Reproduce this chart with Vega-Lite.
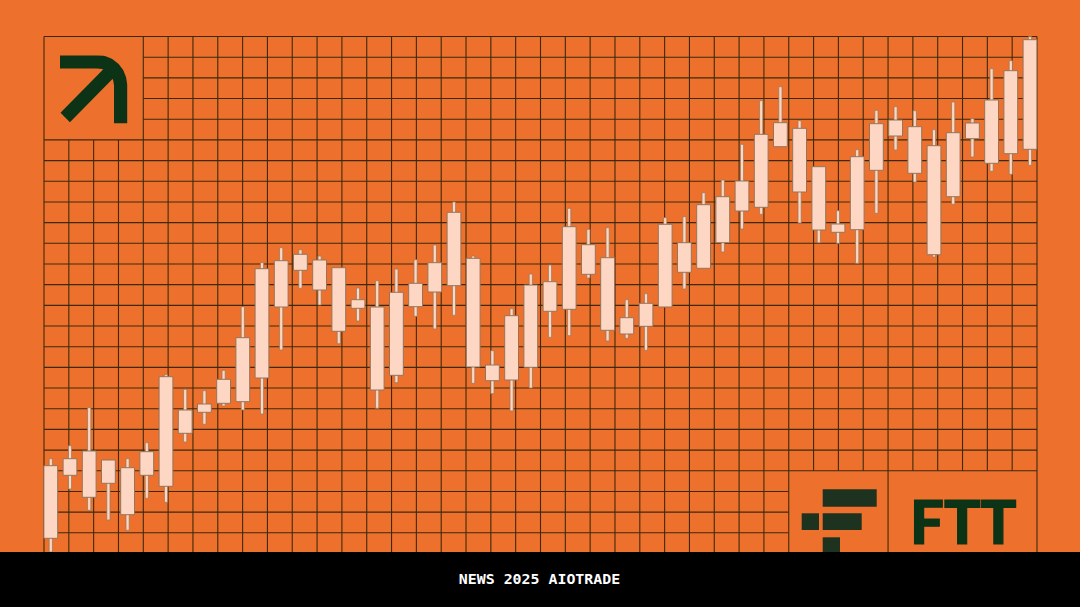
{"$schema":"https://vega.github.io/schema/vega-lite/v6.json","width":1080,"height":607,"padding":0,"autosize":"none","background":"#ee702d","config":{"view":{"stroke":null}},"datasets":{"grid":[{"a":0,"b":0,"c":40,"d":0},{"a":4,"b":1,"c":40,"d":1},{"a":4,"b":2,"c":40,"d":2},{"a":4,"b":3,"c":40,"d":3},{"a":4,"b":4,"c":40,"d":4},{"a":0,"b":5,"c":40,"d":5},{"a":0,"b":6,"c":40,"d":6},{"a":0,"b":7,"c":40,"d":7},{"a":0,"b":8,"c":40,"d":8},{"a":0,"b":9,"c":40,"d":9},{"a":0,"b":10,"c":40,"d":10},{"a":0,"b":11,"c":40,"d":11},{"a":0,"b":12,"c":40,"d":12},{"a":0,"b":13,"c":40,"d":13},{"a":0,"b":14,"c":40,"d":14},{"a":0,"b":15,"c":40,"d":15},{"a":0,"b":16,"c":40,"d":16},{"a":0,"b":17,"c":40,"d":17},{"a":0,"b":18,"c":40,"d":18},{"a":0,"b":19,"c":40,"d":19},{"a":0,"b":20,"c":40,"d":20},{"a":0,"b":21,"c":40,"d":21},{"a":0,"b":22,"c":30,"d":22},{"a":0,"b":23,"c":30,"d":23},{"a":0,"b":24,"c":30,"d":24},{"a":0,"b":25,"c":30,"d":25},{"a":0,"b":0,"c":0,"d":25},{"a":1,"b":5,"c":1,"d":25},{"a":2,"b":5,"c":2,"d":25},{"a":3,"b":5,"c":3,"d":25},{"a":4,"b":0,"c":4,"d":25},{"a":5,"b":0,"c":5,"d":25},{"a":6,"b":0,"c":6,"d":25},{"a":7,"b":0,"c":7,"d":25},{"a":8,"b":0,"c":8,"d":25},{"a":9,"b":0,"c":9,"d":25},{"a":10,"b":0,"c":10,"d":25},{"a":11,"b":0,"c":11,"d":25},{"a":12,"b":0,"c":12,"d":25},{"a":13,"b":0,"c":13,"d":25},{"a":14,"b":0,"c":14,"d":25},{"a":15,"b":0,"c":15,"d":25},{"a":16,"b":0,"c":16,"d":25},{"a":17,"b":0,"c":17,"d":25},{"a":18,"b":0,"c":18,"d":25},{"a":19,"b":0,"c":19,"d":25},{"a":20,"b":0,"c":20,"d":25},{"a":21,"b":0,"c":21,"d":25},{"a":22,"b":0,"c":22,"d":25},{"a":23,"b":0,"c":23,"d":25},{"a":24,"b":0,"c":24,"d":25},{"a":25,"b":0,"c":25,"d":25},{"a":26,"b":0,"c":26,"d":25},{"a":27,"b":0,"c":27,"d":25},{"a":28,"b":0,"c":28,"d":25},{"a":29,"b":0,"c":29,"d":25},{"a":30,"b":0,"c":30,"d":25},{"a":31,"b":0,"c":31,"d":21},{"a":32,"b":0,"c":32,"d":21},{"a":33,"b":0,"c":33,"d":21},{"a":34,"b":0,"c":34,"d":25},{"a":35,"b":0,"c":35,"d":21},{"a":36,"b":0,"c":36,"d":21},{"a":37,"b":0,"c":37,"d":21},{"a":38,"b":0,"c":38,"d":21},{"a":39,"b":0,"c":39,"d":21},{"a":40,"b":0,"c":40,"d":25}],"candles":[{"i":0,"low":55,"high":148.3,"open":68.7,"close":141.3},{"i":1,"low":118,"high":161.3,"open":131.7,"close":148.3},{"i":2,"low":96.7,"high":199.3,"open":109.7,"close":156},{"i":3,"low":87,"high":147,"open":123.7,"close":147},{"i":4,"low":76.7,"high":148.3,"open":92.3,"close":139.3},{"i":5,"low":108.7,"high":164.3,"open":131.7,"close":155.3},{"i":6,"low":104.7,"high":232.3,"open":120.7,"close":230.3},{"i":7,"low":165,"high":217.7,"open":173.7,"close":197},{"i":8,"low":182.7,"high":216.3,"open":194.7,"close":203},{"i":9,"low":201,"high":236.7,"open":203.7,"close":227.7},{"i":10,"low":197,"high":300.3,"open":205.3,"close":269.3},{"i":11,"low":193,"high":344.3,"open":229,"close":338.3},{"i":12,"low":257,"high":359.3,"open":300,"close":346.3},{"i":13,"low":318.7,"high":357.3,"open":336.7,"close":352.7},{"i":14,"low":302,"high":351,"open":317,"close":347},{"i":15,"low":263.3,"high":339.3,"open":275.7,"close":339.3},{"i":16,"low":286,"high":319,"open":298.7,"close":307.3},{"i":17,"low":198.7,"high":326.3,"open":217,"close":300},{"i":18,"low":224.3,"high":338,"open":231.7,"close":314.7},{"i":19,"low":290.7,"high":347.3,"open":300.3,"close":323.7},{"i":20,"low":278,"high":362,"open":315,"close":344.3},{"i":21,"low":291.7,"high":405,"open":321.3,"close":394.7},{"i":22,"low":223.7,"high":351,"open":240,"close":348.7},{"i":23,"low":213.3,"high":256.3,"open":226.3,"close":242},{"i":24,"low":196,"high":298.3,"open":227,"close":291.3},{"i":25,"low":219,"high":333,"open":239.7,"close":322},{"i":26,"low":269.7,"high":342,"open":295.7,"close":325.3},{"i":27,"low":271.3,"high":398.7,"open":297.7,"close":380.3},{"i":28,"low":329,"high":377.7,"open":332.7,"close":362.3},{"i":29,"low":266,"high":379.3,"open":276.7,"close":349.3},{"i":30,"low":268.7,"high":307.3,"open":273,"close":289.3},{"i":31,"low":256.7,"high":313.3,"open":280.7,"close":303.7},{"i":32,"low":300,"high":389.3,"open":300,"close":382.7},{"i":33,"low":318,"high":390.3,"open":334.7,"close":364.3},{"i":34,"low":338.7,"high":414.3,"open":338.7,"close":402.3},{"i":35,"low":355,"high":427,"open":364.3,"close":410.3},{"i":36,"low":378,"high":462.7,"open":396,"close":426},{"i":37,"low":392.7,"high":506.3,"open":399.7,"close":472.7},{"i":38,"low":460.3,"high":520.3,"open":460.3,"close":484.3},{"i":39,"low":384,"high":486.3,"open":415,"close":478.7},{"i":40,"low":364.3,"high":440.3,"open":377,"close":440.3},{"i":41,"low":363.7,"high":396.3,"open":374.7,"close":383},{"i":42,"low":343.7,"high":457.3,"open":377.3,"close":450.3},{"i":43,"low":393.7,"high":496.7,"open":436.7,"close":483.3},{"i":44,"low":457,"high":500.3,"open":471,"close":487},{"i":45,"low":425,"high":496.3,"open":433.7,"close":480.3},{"i":46,"low":350,"high":477.3,"open":352.3,"close":461.3},{"i":47,"low":402.7,"high":505,"open":410.3,"close":474.3},{"i":48,"low":450,"high":488.3,"open":468.3,"close":484},{"i":49,"low":435.7,"high":538.3,"open":443.7,"close":507},{"i":50,"low":432.7,"high":546.3,"open":453.3,"close":536.3},{"i":51,"low":441.7,"high":570.3,"open":457.7,"close":567.3}],"blocks":[{"x":822.7,"y":489.3,"x2":876.7,"y2":506.7},{"x":822.7,"y":513.3,"x2":861.7,"y2":530},{"x":801.7,"y":513.3,"x2":819,"y2":530},{"x":822.7,"y":537.3,"x2":840,"y2":552}]},"layer":[{"data":{"name":"grid"},"mark":{"type":"rule","stroke":"#3d2a0c","strokeWidth":1.1},"encoding":{"x":{"field":"a","type":"quantitative","axis":null,"scale":{"domain":[0,40],"range":[44,1037]}},"x2":{"field":"c"},"y":{"field":"b","type":"quantitative","axis":null,"scale":{"domain":[0,25],"range":[36.5,553.5]}},"y2":{"field":"d"}}},{"data":{"name":"candles"},"layer":[{"mark":{"type":"bar","size":3.2,"fill":"#fdd7c3","stroke":"#9c7a5a","strokeWidth":0.8},"encoding":{"y":{"field":"low","type":"quantitative"},"y2":{"field":"high"}}},{"mark":{"type":"bar","size":13.8,"fill":"#fdd7c3","stroke":"#957459","strokeWidth":1},"encoding":{"y":{"field":"open","type":"quantitative"},"y2":{"field":"close"}}}],"encoding":{"x":{"field":"i","type":"quantitative","axis":null,"scale":{"domain":[0,51],"range":[50.8,1030],"padding":0}},"y":{"type":"quantitative","axis":null,"scale":{"domain":[0,607],"range":[607,0]}}}},{"data":{"name":"blocks"},"mark":{"type":"rect","fill":"#1d3320"},"encoding":{"x":{"field":"x","type":"quantitative","axis":null,"scale":{"domain":[0,1080],"range":[0,1080]}},"x2":{"field":"x2"},"y":{"field":"y","type":"quantitative","axis":null,"scale":{"domain":[0,607],"range":[0,607]}},"y2":{"field":"y2"}}},{"data":{"values":[{"x":60,"y":62,"o":0},{"x":97,"y":62,"o":1},{"x":103.1,"y":62.3,"o":2},{"x":108.8,"y":64.6,"o":3},{"x":113.6,"y":68.4,"o":4},{"x":117.4,"y":73.3,"o":5},{"x":119.7,"y":78.9,"o":6},{"x":120.6,"y":85,"o":7},{"x":120.6,"y":123.3,"o":8}]},"mark":{"type":"line","stroke":"#0c3315","strokeWidth":13.2,"strokeCap":"butt","strokeJoin":"round"},"encoding":{"order":{"field":"o"},"x":{"field":"x","type":"quantitative","axis":null,"scale":{"domain":[0,1080],"range":[0,1080]}},"y":{"field":"y","type":"quantitative","axis":null,"scale":{"domain":[0,607],"range":[0,607]}}}},{"data":{"values":[{"x":65.2,"y":117.5,"o":0},{"x":110,"y":72,"o":1}]},"mark":{"type":"line","stroke":"#0c3315","strokeWidth":13.2,"strokeCap":"butt"},"encoding":{"order":{"field":"o"},"x":{"field":"x","type":"quantitative","axis":null,"scale":{"domain":[0,1080],"range":[0,1080]}},"y":{"field":"y","type":"quantitative","axis":null,"scale":{"domain":[0,607],"range":[0,607]}}}},{"data":{"values":[{"x":910,"y":543.5,"t":"FTT"}]},"mark":{"type":"text","font":"Lato","fontWeight":900,"fontSize":60,"align":"left","baseline":"alphabetic","fill":"#0c3315","stroke":"#0c3315","strokeWidth":1.2},"encoding":{"text":{"field":"t"},"x":{"field":"x","type":"quantitative","axis":null,"scale":{"domain":[0,1080],"range":[0,1080]}},"y":{"field":"y","type":"quantitative","axis":null,"scale":{"domain":[0,607],"range":[0,607]}}}},{"data":{"values":[{"x":0,"x2":1080,"y":552,"y2":607}]},"mark":{"type":"rect","fill":"#000000"},"encoding":{"x":{"field":"x","type":"quantitative","axis":null,"scale":{"domain":[0,1080],"range":[0,1080]}},"x2":{"field":"x2"},"y":{"field":"y","type":"quantitative","axis":null,"scale":{"domain":[0,607],"range":[0,607]}},"y2":{"field":"y2"}}},{"data":{"values":[{"x":539.5,"y":580,"t":"NEWS 2025 AIOTRADE"}]},"mark":{"type":"text","font":"DejaVu Sans Mono","fontWeight":700,"fontSize":14.9,"align":"center","baseline":"middle","fill":"#ffffff"},"encoding":{"text":{"field":"t"},"x":{"field":"x","type":"quantitative","axis":null,"scale":{"domain":[0,1080],"range":[0,1080]}},"y":{"field":"y","type":"quantitative","axis":null,"scale":{"domain":[0,607],"range":[0,607]}}}}],"resolve":{"scale":{"x":"independent","y":"independent"}}}
